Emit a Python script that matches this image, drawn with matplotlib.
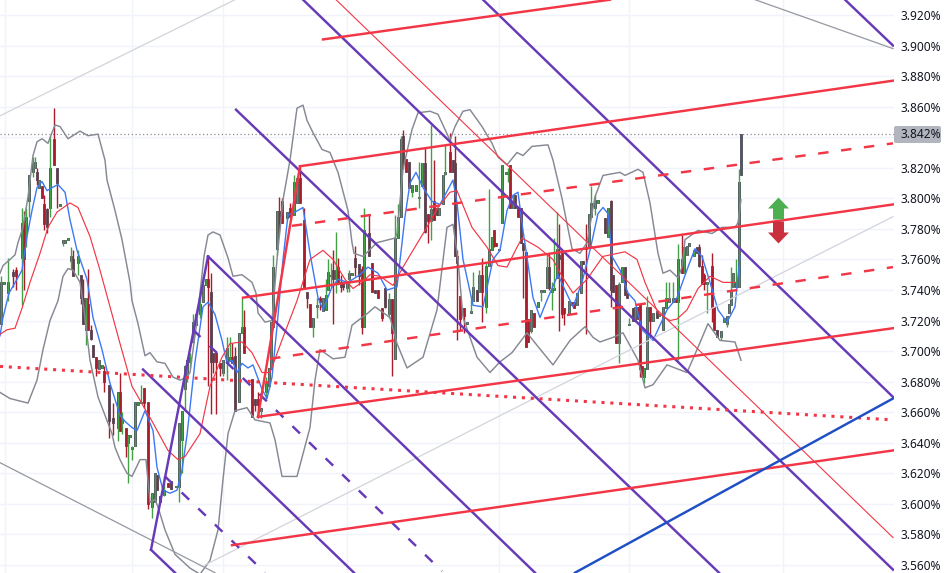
import matplotlib
matplotlib.use("Agg")
import matplotlib.pyplot as plt
from matplotlib.patches import FancyBboxPatch
from matplotlib.path import Path
from matplotlib.transforms import IdentityTransform

# candles: time position, then prices in percent
bar_t = [1, 4, 8, 13, 16, 22, 24, 26, 29, 33,
         35, 37, 39, 42, 44, 47, 50, 54, 57, 60,
         63, 65, 68, 71, 73, 78, 81, 83, 86, 88,
         91, 93, 96, 99, 102, 104, 109, 113, 118, 120,
         122, 126, 128, 130, 132, 135, 138, 141, 144, 148,
         152, 155, 157, 160, 164, 168, 171, 176, 179, 182,
         185, 187, 190, 193, 196, 200, 203, 206, 208, 211,
         213, 216, 220, 223, 227, 230, 232, 235, 239, 242,
         244, 252, 255, 258, 261, 266, 269, 271, 273, 277,
         279, 282, 287, 290, 294, 297, 300, 304, 307, 310,
         313, 317, 320, 323, 326, 328, 331, 333, 336, 338,
         341, 343, 347, 349, 352, 355, 359, 362, 364, 369,
         372, 375, 378, 382, 385, 389, 392, 395, 398, 401,
         403, 406, 409, 412, 416, 419, 422, 425, 428, 431,
         434, 437, 439, 443, 445, 450, 453, 455, 457, 460,
         464, 467, 471, 473, 477, 479, 482, 486, 489, 492,
         494, 496, 499, 502, 506, 508, 510, 513, 515, 518,
         521, 523, 526, 528, 531, 534, 538, 541, 544, 547,
         549, 552, 554, 557, 559, 562, 564, 569, 572, 574,
         577, 581, 583, 586, 589, 591, 595, 598, 605, 608,
         611, 613, 616, 619, 622, 625, 627, 629, 633, 635,
         638, 640, 642, 644, 647, 650, 653, 657, 659, 663,
         666, 669, 673, 676, 678, 682, 684, 687, 689, 694,
         697, 699, 702, 704, 707, 712, 714, 717, 721, 724,
         727, 729, 731, 733, 736, 739, 741]
bar_open = [3.718, 3.744, 3.738, 3.752, 3.753, 3.761, 3.781, 3.777, 3.798, 3.817,
            3.820, 3.817, 3.807, 3.808, 3.796, 3.793, 3.794, 3.839, 3.820, 3.795,
            3.771, 3.771, 3.773, 3.759, 3.760, 3.758, 3.750, 3.735, 3.714, 3.731,
            3.714, 3.704, 3.696, 3.688, 3.689, 3.687, 3.678, 3.656, 3.650, 3.673,
            3.653, 3.650, 3.640, 3.644, 3.636, 3.638, 3.665, 3.666, 3.676, 3.667,
            3.598, 3.601, 3.619, 3.605, 3.606, 3.614, 3.615, 3.611, 3.611, 3.642,
            3.675, 3.683, 3.693, 3.706, 3.717, 3.724, 3.732, 3.743, 3.747, 3.739,
            3.699, 3.699, 3.692, 3.686, 3.693, 3.694, 3.696, 3.697, 3.667, 3.712,
            3.716, 3.682, 3.669, 3.669, 3.661, 3.673, 3.677, 3.688, 3.716, 3.767,
            3.792, 3.798, 3.787, 3.794, 3.789, 3.797, 3.813, 3.786, 3.739, 3.731,
            3.716, 3.729, 3.735, 3.726, 3.727, 3.740, 3.749, 3.753, 3.747, 3.755,
            3.745, 3.745, 3.741, 3.747, 3.750, 3.761, 3.757, 3.754, 3.716, 3.777,
            3.758, 3.740, 3.740, 3.728, 3.741, 3.724, 3.734, 3.695, 3.774, 3.788,
            3.841, 3.826, 3.824, 3.804, 3.805, 3.800, 3.808, 3.823, 3.790, 3.785,
            3.798, 3.794, 3.789, 3.796, 3.816, 3.830, 3.825, 3.823, 3.762, 3.736,
            3.728, 3.718, 3.725, 3.733, 3.740, 3.739, 3.750, 3.729, 3.756, 3.766,
            3.779, 3.771, 3.766, 3.784, 3.816, 3.816, 3.822, 3.794, 3.802, 3.794,
            3.794, 3.771, 3.765, 3.721, 3.713, 3.725, 3.729, 3.739, 3.739, 3.741,
            3.755, 3.739, 3.740, 3.748, 3.763, 3.764, 3.728, 3.724, 3.732, 3.732,
            3.730, 3.738, 3.759, 3.768, 3.768, 3.788, 3.794, 3.797, 3.787, 3.775,
            3.798, 3.750, 3.743, 3.705, 3.745, 3.755, 3.738, 3.717, 3.728, 3.720,
            3.729, 3.731, 3.690, 3.683, 3.688, 3.729, 3.720, 3.726, 3.723, 3.714,
            3.728, 3.732, 3.732, 3.735, 3.732, 3.760, 3.751, 3.763, 3.769, 3.762,
            3.768, 3.768, 3.756, 3.750, 3.744, 3.756, 3.729, 3.714, 3.709, 3.719,
            3.718, 3.725, 3.730, 3.742, 3.742, 3.742, 3.815]
bar_close = [3.745, 3.745, 3.745, 3.749, 3.749, 3.784, 3.760, 3.788, 3.815, 3.823,
             3.824, 3.812, 3.812, 3.800, 3.783, 3.781, 3.820, 3.822, 3.810, 3.796,
             3.773, 3.773, 3.774, 3.762, 3.749, 3.762, 3.735, 3.718, 3.735, 3.714,
             3.708, 3.696, 3.689, 3.694, 3.691, 3.680, 3.654, 3.653, 3.673, 3.648,
             3.655, 3.638, 3.645, 3.645, 3.637, 3.667, 3.667, 3.667, 3.666, 3.600,
             3.607, 3.620, 3.609, 3.601, 3.609, 3.611, 3.610, 3.612, 3.653, 3.661,
             3.690, 3.694, 3.696, 3.719, 3.724, 3.731, 3.743, 3.747, 3.742, 3.693,
             3.693, 3.693, 3.689, 3.694, 3.702, 3.696, 3.692, 3.661, 3.712, 3.716,
             3.699, 3.657, 3.665, 3.665, 3.663, 3.679, 3.689, 3.719, 3.755, 3.792,
             3.781, 3.784, 3.791, 3.788, 3.811, 3.813, 3.797, 3.742, 3.735, 3.716,
             3.722, 3.730, 3.732, 3.735, 3.737, 3.752, 3.750, 3.747, 3.753, 3.745,
             3.742, 3.742, 3.745, 3.751, 3.751, 3.755, 3.749, 3.716, 3.779, 3.762,
             3.739, 3.738, 3.735, 3.722, 3.729, 3.734, 3.712, 3.774, 3.788, 3.839,
             3.825, 3.817, 3.807, 3.809, 3.809, 3.801, 3.823, 3.778, 3.785, 3.793,
             3.786, 3.789, 3.794, 3.815, 3.817, 3.817, 3.817, 3.762, 3.758, 3.721,
             3.723, 3.719, 3.726, 3.742, 3.733, 3.750, 3.739, 3.756, 3.767, 3.775,
             3.769, 3.769, 3.767, 3.822, 3.817, 3.817, 3.794, 3.798, 3.794, 3.788,
             3.771, 3.766, 3.703, 3.706, 3.727, 3.716, 3.732, 3.740, 3.740, 3.755,
             3.741, 3.740, 3.741, 3.767, 3.760, 3.724, 3.725, 3.733, 3.730, 3.728,
             3.738, 3.759, 3.757, 3.767, 3.790, 3.797, 3.799, 3.799, 3.777, 3.794,
             3.740, 3.739, 3.705, 3.744, 3.755, 3.737, 3.735, 3.718, 3.720, 3.729,
             3.721, 3.688, 3.683, 3.689, 3.729, 3.720, 3.725, 3.722, 3.724, 3.729,
             3.735, 3.735, 3.735, 3.732, 3.760, 3.751, 3.768, 3.769, 3.771, 3.766,
             3.764, 3.756, 3.744, 3.744, 3.745, 3.729, 3.714, 3.709, 3.713, 3.722,
             3.723, 3.731, 3.740, 3.751, 3.745, 3.811, 3.842]
bar_high = [3.749, 3.745, 3.761, 3.754, 3.755, 3.794, 3.792, 3.794, 3.815, 3.827,
            3.827, 3.820, 3.812, 3.808, 3.802, 3.794, 3.841, 3.859, 3.820, 3.796,
            3.773, 3.773, 3.774, 3.768, 3.766, 3.766, 3.750, 3.747, 3.735, 3.754,
            3.717, 3.704, 3.696, 3.694, 3.691, 3.690, 3.678, 3.666, 3.673, 3.686,
            3.660, 3.650, 3.645, 3.645, 3.638, 3.667, 3.667, 3.678, 3.676, 3.667,
            3.607, 3.620, 3.619, 3.605, 3.618, 3.614, 3.615, 3.612, 3.653, 3.661,
            3.691, 3.694, 3.699, 3.724, 3.724, 3.737, 3.749, 3.747, 3.762, 3.751,
            3.699, 3.699, 3.692, 3.694, 3.709, 3.709, 3.705, 3.703, 3.712, 3.735,
            3.727, 3.682, 3.669, 3.673, 3.663, 3.683, 3.689, 3.719, 3.763, 3.792,
            3.801, 3.800, 3.791, 3.797, 3.815, 3.813, 3.822, 3.794, 3.739, 3.731,
            3.722, 3.735, 3.736, 3.735, 3.747, 3.760, 3.758, 3.766, 3.778, 3.761,
            3.750, 3.745, 3.745, 3.753, 3.751, 3.769, 3.757, 3.756, 3.794, 3.790,
            3.758, 3.740, 3.740, 3.728, 3.741, 3.738, 3.734, 3.789, 3.796, 3.841,
            3.845, 3.826, 3.824, 3.809, 3.809, 3.824, 3.823, 3.833, 3.790, 3.848,
            3.825, 3.794, 3.794, 3.815, 3.835, 3.843, 3.825, 3.841, 3.766, 3.736,
            3.728, 3.719, 3.734, 3.752, 3.740, 3.753, 3.761, 3.758, 3.806, 3.775,
            3.779, 3.771, 3.767, 3.822, 3.817, 3.820, 3.822, 3.802, 3.802, 3.794,
            3.794, 3.771, 3.765, 3.721, 3.727, 3.725, 3.732, 3.740, 3.740, 3.764,
            3.764, 3.745, 3.774, 3.791, 3.783, 3.764, 3.728, 3.733, 3.732, 3.732,
            3.738, 3.759, 3.759, 3.783, 3.790, 3.808, 3.802, 3.799, 3.787, 3.794,
            3.799, 3.750, 3.743, 3.745, 3.755, 3.755, 3.738, 3.722, 3.728, 3.729,
            3.729, 3.731, 3.690, 3.689, 3.736, 3.729, 3.725, 3.726, 3.724, 3.729,
            3.745, 3.745, 3.745, 3.735, 3.770, 3.776, 3.768, 3.769, 3.771, 3.766,
            3.768, 3.770, 3.763, 3.751, 3.745, 3.764, 3.729, 3.714, 3.713, 3.722,
            3.723, 3.731, 3.755, 3.751, 3.760, 3.819, 3.842]
bar_low = [3.718, 3.744, 3.733, 3.742, 3.740, 3.730, 3.740, 3.768, 3.788, 3.814,
           3.820, 3.809, 3.807, 3.800, 3.779, 3.777, 3.788, 3.822, 3.794, 3.795,
           3.769, 3.771, 3.773, 3.754, 3.749, 3.750, 3.731, 3.718, 3.704, 3.714,
           3.707, 3.696, 3.684, 3.688, 3.689, 3.673, 3.643, 3.645, 3.641, 3.648,
           3.646, 3.631, 3.614, 3.644, 3.629, 3.638, 3.665, 3.666, 3.663, 3.597,
           3.591, 3.601, 3.609, 3.601, 3.605, 3.611, 3.610, 3.611, 3.601, 3.620,
           3.661, 3.680, 3.689, 3.705, 3.717, 3.722, 3.732, 3.743, 3.677, 3.659,
           3.686, 3.659, 3.684, 3.684, 3.681, 3.694, 3.692, 3.661, 3.667, 3.712,
           3.699, 3.657, 3.661, 3.656, 3.656, 3.669, 3.675, 3.688, 3.716, 3.763,
           3.778, 3.784, 3.786, 3.788, 3.789, 3.797, 3.797, 3.741, 3.728, 3.716,
           3.709, 3.722, 3.727, 3.726, 3.727, 3.740, 3.742, 3.718, 3.738, 3.745,
           3.739, 3.740, 3.739, 3.739, 3.750, 3.749, 3.743, 3.711, 3.716, 3.762,
           3.739, 3.738, 3.735, 3.720, 3.728, 3.722, 3.684, 3.695, 3.774, 3.788,
           3.819, 3.817, 3.807, 3.801, 3.805, 3.794, 3.808, 3.777, 3.771, 3.773,
           3.786, 3.789, 3.789, 3.796, 3.815, 3.817, 3.817, 3.762, 3.707, 3.714,
           3.712, 3.718, 3.725, 3.733, 3.733, 3.739, 3.719, 3.725, 3.756, 3.766,
           3.768, 3.769, 3.766, 3.784, 3.816, 3.811, 3.794, 3.794, 3.794, 3.788,
           3.771, 3.735, 3.703, 3.706, 3.712, 3.716, 3.729, 3.733, 3.739, 3.741,
           3.740, 3.727, 3.740, 3.748, 3.713, 3.722, 3.717, 3.724, 3.730, 3.728,
           3.730, 3.738, 3.757, 3.711, 3.768, 3.788, 3.789, 3.797, 3.777, 3.775,
           3.729, 3.739, 3.705, 3.692, 3.745, 3.737, 3.735, 3.717, 3.720, 3.720,
           3.721, 3.683, 3.683, 3.679, 3.688, 3.709, 3.720, 3.722, 3.723, 3.714,
           3.728, 3.732, 3.732, 3.732, 3.694, 3.751, 3.751, 3.763, 3.769, 3.762,
           3.764, 3.755, 3.744, 3.740, 3.725, 3.719, 3.714, 3.709, 3.707, 3.719,
           3.716, 3.725, 3.730, 3.742, 3.742, 3.742, 3.815]

# indicators
upper_t = [0, 3, 10, 15, 18, 23, 28, 33, 37, 42, 48, 52, 55, 60, 68, 80, 88, 98, 105, 107,
           115, 122, 130, 132, 138, 145, 150, 157, 165, 173, 180, 187, 190, 197, 204, 208, 213, 220, 228, 233,
           242, 252, 256, 258, 265, 272, 277, 283, 290, 297, 303, 307, 313, 322, 330, 338, 348, 352, 354, 363,
           377, 395, 397, 403, 412, 418, 430, 438, 450, 455, 463, 470, 482, 492, 498, 507, 517, 523, 532, 548,
           553, 562, 572, 580, 587, 595, 603, 620, 625, 638, 643, 650, 658, 663, 670, 678, 682, 685, 698, 712,
           722, 735, 738, 741]
upper_band = [3.751, 3.756, 3.760, 3.763, 3.771, 3.781, 3.801, 3.828, 3.837, 3.839, 3.836, 3.843, 3.848, 3.847, 3.839, 3.844, 3.841, 3.842, 3.825, 3.812,
              3.792, 3.773, 3.745, 3.733, 3.718, 3.697, 3.699, 3.693, 3.692, 3.683, 3.681, 3.683, 3.686, 3.720, 3.762, 3.776, 3.778, 3.776, 3.761, 3.749,
              3.750, 3.745, 3.738, 3.725, 3.719, 3.720, 3.760, 3.799, 3.825, 3.859, 3.861, 3.851, 3.843, 3.832, 3.830, 3.817, 3.792, 3.771, 3.764, 3.762,
              3.771, 3.774, 3.777, 3.819, 3.845, 3.856, 3.857, 3.855, 3.838, 3.847, 3.857, 3.858, 3.847, 3.836, 3.827, 3.822, 3.830, 3.828, 3.834, 3.835,
              3.825, 3.800, 3.767, 3.764, 3.771, 3.801, 3.815, 3.817, 3.815, 3.819, 3.817, 3.797, 3.764, 3.751, 3.753, 3.748, 3.755, 3.773, 3.779, 3.777,
              3.781, 3.781, 3.784, 3.799]
lower_t = [0, 10, 28, 37, 43, 50, 58, 63, 68, 73, 80, 84, 90, 98, 105, 112, 115, 120, 127, 132,
           140, 146, 150, 155, 158, 165, 175, 190, 200, 210, 218, 223, 228, 235, 247, 255, 270, 275, 282, 297,
           310, 315, 320, 333, 345, 352, 368, 375, 390, 397, 407, 423, 437, 447, 453, 458, 463, 477, 490, 500,
           512, 527, 538, 553, 570, 585, 593, 600, 613, 623, 638, 645, 653, 667, 687, 697, 708, 720, 735, 741]
lower_band = [3.673, 3.669, 3.666, 3.681, 3.701, 3.720, 3.733, 3.749, 3.754, 3.753, 3.745, 3.727, 3.694, 3.670, 3.658, 3.646, 3.637, 3.629, 3.620, 3.618,
              3.629, 3.629, 3.601, 3.603, 3.598, 3.583, 3.567, 3.558, 3.554, 3.563, 3.583, 3.616, 3.646, 3.661, 3.663, 3.655, 3.653, 3.642, 3.618, 3.618,
              3.650, 3.681, 3.701, 3.695, 3.696, 3.717, 3.725, 3.729, 3.722, 3.705, 3.689, 3.696, 3.727, 3.781, 3.783, 3.760, 3.722, 3.696, 3.686, 3.693,
              3.699, 3.712, 3.703, 3.691, 3.707, 3.716, 3.709, 3.706, 3.709, 3.712, 3.694, 3.676, 3.678, 3.691, 3.686, 3.701, 3.718, 3.707, 3.706, 3.694]
fast_t = [0, 3, 9, 17, 22, 27, 32, 37, 42, 47, 52, 58, 65, 70, 77, 87, 93, 102, 110, 120,
          125, 132, 137, 145, 153, 157, 163, 170, 177, 182, 187, 195, 203, 208, 215, 222, 227, 232, 237, 242,
          248, 253, 262, 267, 272, 277, 283, 288, 295, 303, 310, 318, 323, 332, 338, 348, 360, 368, 378, 387,
          397, 405, 410, 416, 423, 432, 440, 453, 457, 463, 473, 483, 493, 500, 507, 513, 518, 523, 533, 540,
          548, 558, 565, 573, 582, 590, 598, 603, 608, 612, 620, 628, 635, 642, 653, 667, 677, 688, 695, 702,
          710, 718, 727, 735, 740]
fast_ma = [3.710, 3.722, 3.738, 3.747, 3.753, 3.775, 3.792, 3.807, 3.811, 3.805, 3.807, 3.809, 3.804, 3.786, 3.766, 3.747, 3.722, 3.701, 3.679, 3.658,
           3.654, 3.650, 3.648, 3.661, 3.648, 3.624, 3.609, 3.607, 3.609, 3.622, 3.645, 3.693, 3.729, 3.732, 3.724, 3.707, 3.692, 3.694, 3.686, 3.692,
           3.689, 3.691, 3.675, 3.669, 3.683, 3.716, 3.760, 3.789, 3.791, 3.794, 3.764, 3.735, 3.727, 3.742, 3.747, 3.745, 3.750, 3.755, 3.751, 3.740,
           3.742, 3.788, 3.810, 3.817, 3.807, 3.798, 3.796, 3.812, 3.797, 3.760, 3.730, 3.729, 3.760, 3.766, 3.792, 3.802, 3.804, 3.779, 3.735, 3.722,
           3.735, 3.750, 3.740, 3.729, 3.745, 3.766, 3.790, 3.794, 3.790, 3.762, 3.753, 3.738, 3.733, 3.714, 3.707, 3.727, 3.735, 3.755, 3.767, 3.762,
           3.745, 3.727, 3.719, 3.729, 3.762]
slow_t = [0, 7, 15, 22, 30, 40, 48, 57, 70, 78, 90, 100, 110, 120, 132, 153, 168, 178, 185, 200,
          210, 222, 230, 242, 252, 262, 270, 283, 297, 310, 323, 333, 345, 353, 362, 370, 380, 393, 403, 413,
          425, 438, 450, 457, 472, 487, 498, 507, 517, 522, 538, 553, 562, 573, 587, 603, 625, 637, 645, 658,
          670, 677, 687, 698, 710, 723, 735]
slow_ma = [3.711, 3.714, 3.715, 3.728, 3.745, 3.764, 3.781, 3.791, 3.797, 3.794, 3.775, 3.753, 3.729, 3.705, 3.677, 3.653, 3.635, 3.629, 3.631, 3.646,
           3.677, 3.696, 3.705, 3.706, 3.699, 3.686, 3.686, 3.709, 3.733, 3.760, 3.766, 3.760, 3.747, 3.741, 3.745, 3.750, 3.749, 3.743, 3.755, 3.766,
           3.779, 3.794, 3.804, 3.805, 3.781, 3.768, 3.756, 3.755, 3.768, 3.774, 3.768, 3.760, 3.749, 3.738, 3.747, 3.762, 3.765, 3.760, 3.745, 3.725,
           3.720, 3.721, 3.727, 3.741, 3.749, 3.745, 3.745]

# drawings as (t0, t1, price0, price1)
purple_lines = [(236, 719, 3.858, 3.555), (303, 893, 3.930, 3.557), (483, 893, 3.930, 3.670),
                (845, 893, 3.930, 3.900), (208, 535, 3.762, 3.555), (143, 354, 3.688, 3.555),
                (151, 208, 3.570, 3.762), (151, 175, 3.570, 3.555)]
purple_dashed = [(193, 442, 3.714, 3.556), (165, 265, 3.618, 3.555)]
red_lines = [(258, 300, 3.657, 3.821), (300, 893, 3.821, 3.877), (258, 893, 3.657, 3.715),
             (243, 893, 3.735, 3.796), (323, 610, 3.904, 3.930), (232, 893, 3.573, 3.635)]
red_dashed = [(292, 893, 3.782, 3.836), (270, 893, 3.695, 3.755)]
red_dotted = [(0, 893, 3.690, 3.655)]
red_thin = [(336, 893, 3.930, 3.578)]
blue_lines = [(575, 893, 3.555, 3.669)]
gray_lines = [(755, 893, 3.930, 3.898), (0, 215, 3.627, 3.555)]
light_lines = [(0, 235, 3.854, 3.930), (205, 893, 3.560, 3.788)]

grid_t = [5, 132, 223, 347, 499, 629, 783]
price_ticks = [3.56, 3.58, 3.60, 3.62, 3.64, 3.66, 3.68, 3.70, 3.72, 3.74,
               3.76, 3.78, 3.80, 3.82, 3.84, 3.86, 3.88, 3.90, 3.92]
last_price = 3.842
up_arrow = (777.5, 3.794)
down_arrow = (777.5, 3.778)

GREEN = "#43a047"
RED = "#a81c2c"
BODY = "#555862"

plt.rcParams["font.family"] = ["Noto Sans", "DejaVu Sans"]

fig = plt.figure(figsize=(9.5, 5.73), dpi=100)
ax = fig.add_axes([0, 0, 894 / 950, 1])
ax.set_xlim(0, 894)
ax.set_ylim(3.5548, 3.9298)
for s in ax.spines.values():
    s.set_visible(False)

ax.set_xticks([])
ax.yaxis.tick_right()
ax.set_yticks(price_ticks)
# the last price box sits on top of 3.840
ax.set_yticklabels(["" if abs(p - 3.84) < 1e-6 else f"{p:.3f}%" for p in price_ticks])
ax.tick_params(axis="y", length=0, pad=5, labelsize=8.6, labelcolor="#131722")
ax.grid(axis="y", color="#f0f3fa", lw=1, zorder=0)
for t in grid_t:
    ax.axvline(t, color="#f0f3fa", lw=1, zorder=0)
ax.axhline(last_price, color="#8a8d96", lw=0.9, ls=(0, (1, 2)), zorder=1)

# candles
for t, o, c, h, l in zip(bar_t, bar_open, bar_close, bar_high, bar_low):
    ax.bar(t, abs(c - o), bottom=min(o, c), width=2.5, color=BODY, edgecolor=BODY, lw=0.7, zorder=2)
    col = GREEN if c >= o else RED
    if t == bar_t[-1]:
        col = BODY
    ax.plot([t, t], [l, h], color=col, lw=1.0, zorder=3, solid_capstyle="butt")

# indicators
ax.plot(upper_t, upper_band, color="#868993", lw=1.05, zorder=4)
ax.plot(lower_t, lower_band, color="#868993", lw=1.05, zorder=4)
ax.plot(fast_t, fast_ma, color="#3d78f5", lw=1.0, zorder=4)
ax.plot(slow_t, slow_ma, color="#f23645", lw=0.85, zorder=4)


def draw_lines(lines, **kw):
    for t0, t1, p0, p1 in lines:
        ax.plot([t0, t1], [p0, p1], zorder=5, **kw)


draw_lines(light_lines, color="#d1d4dc", lw=0.9)
draw_lines(gray_lines, color="#9598a1", lw=0.9)
draw_lines(red_thin, color="#f23645", lw=0.8)
draw_lines(purple_lines, color="#673ab7", lw=1.75)
draw_lines(purple_dashed, color="#673ab7", lw=1.75, ls=(0, (4.3, 5.2)))
draw_lines(red_lines, color="#f23645", lw=1.75)
draw_lines(red_dashed, color="#f23645", lw=1.75, ls=(0, (4.3, 5.2)))
draw_lines(red_dotted, color="#f23645", lw=2.2, ls=(0, (1, 1.9)))
draw_lines(blue_lines, color="#1f4fc4", lw=1.75)

# long / short arrows
arrow_path = Path([(0, 11), (10.5, 0), (5.5, 0), (5.5, -11), (-5.5, -11), (-5.5, 0), (-10.5, 0), (0, 11), (0, 11)],
                  closed=True)
flipped = Path(arrow_path.vertices * [1, -1], closed=True)
ax.plot(*up_arrow, marker=arrow_path, ms=15.8, color="#4caf50", mew=0, zorder=6)
ax.plot(*down_arrow, marker=flipped, ms=15.8, color="#c92f3d", mew=0, zorder=6)

# last price label on the scale, box is in pixels
box = FancyBboxPatch((894, 430), 47, 17, boxstyle="round,pad=0,rounding_size=2",
                     fc="#b2b5be", ec="none", transform=IdentityTransform(), clip_on=False, zorder=9)
ax.add_artist(box)
ax.annotate(f"{last_price:.3f}%", xy=(1, last_price), xycoords=("axes fraction", "data"),
            xytext=(5, 0), textcoords="offset points", va="center", ha="left",
            fontsize=8.6, color="#131722", annotation_clip=False, zorder=10)

fig.savefig("out.png", dpi=100)
